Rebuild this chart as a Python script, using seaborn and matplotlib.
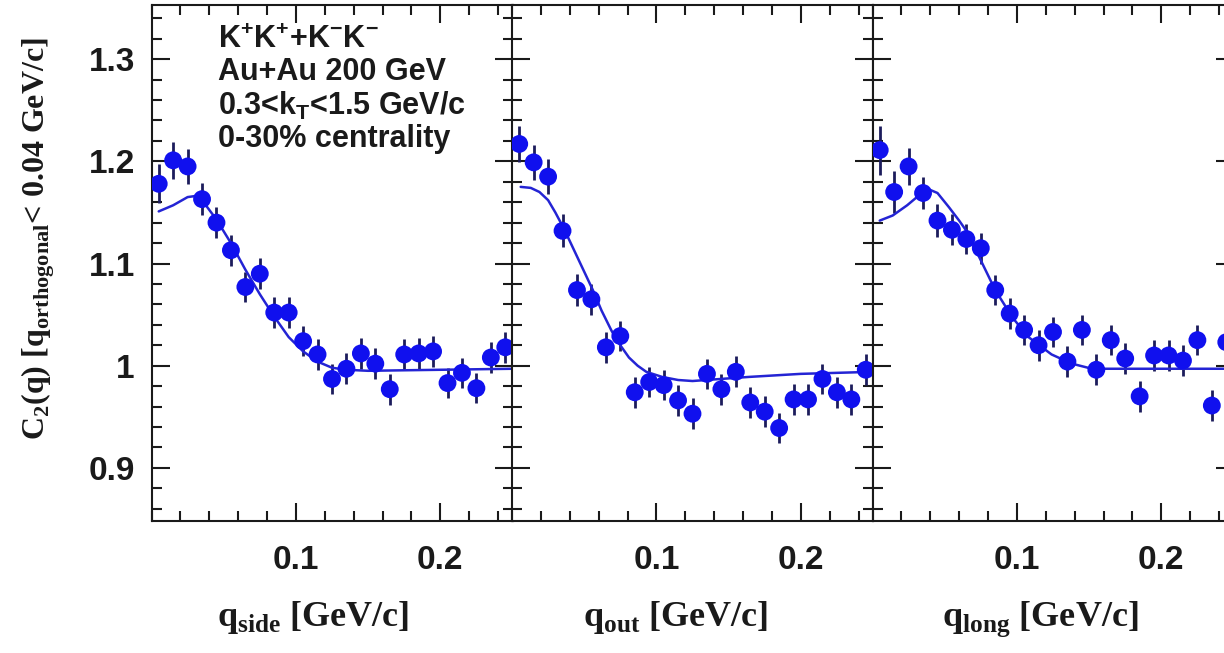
import matplotlib
matplotlib.use('Agg')
import matplotlib.pyplot as plt
import seaborn as sns
from matplotlib.ticker import MultipleLocator

# bin centres (GeV/c), same for the three projections
q = [0.005, 0.015, 0.025, 0.035, 0.045, 0.055, 0.065, 0.075, 0.085, 0.095,
     0.105, 0.115, 0.125, 0.135, 0.145, 0.155, 0.165, 0.175, 0.185, 0.195,
     0.205, 0.215, 0.225, 0.235, 0.245]

c2_side = [1.178, 1.201, 1.195, 1.163, 1.140, 1.113, 1.077, 1.090, 1.052, 1.052,
           1.024, 1.011, 0.987, 0.997, 1.012, 1.002, 0.977, 1.011, 1.012, 1.014,
           0.983, 0.993, 0.978, 1.008, 1.018]
err_side = [0.019, 0.018, 0.017, 0.016, 0.015, 0.015, 0.015, 0.015, 0.015, 0.015,
            0.015, 0.015, 0.015, 0.015, 0.015, 0.015, 0.015, 0.015, 0.015, 0.015,
            0.015, 0.015, 0.015, 0.015, 0.015]

c2_out = [1.217, 1.199, 1.185, 1.132, 1.074, 1.065, 1.018, 1.029, 0.974, 0.984,
          0.981, 0.966, 0.953, 0.992, 0.977, 0.994, 0.964, 0.955, 0.939, 0.967,
          0.967, 0.987, 0.974, 0.967, 0.996]
err_out = [0.018, 0.017, 0.017, 0.016, 0.016, 0.015, 0.015, 0.015, 0.015, 0.015,
           0.015, 0.015, 0.015, 0.015, 0.015, 0.015, 0.015, 0.015, 0.015, 0.015,
           0.015, 0.015, 0.015, 0.015, 0.015]

c2_long = [1.211, 1.170, 1.195, 1.169, 1.142, 1.133, 1.124, 1.115, 1.074, 1.051,
           1.035, 1.020, 1.033, 1.004, 1.035, 0.996, 1.025, 1.007, 0.970, 1.010,
           1.010, 1.005, 1.025, 0.961, 1.023]
err_long = [0.024, 0.021, 0.018, 0.016, 0.016, 0.015, 0.015, 0.015, 0.015, 0.015,
            0.015, 0.015, 0.015, 0.015, 0.015, 0.015, 0.015, 0.015, 0.015, 0.015,
            0.015, 0.015, 0.015, 0.015, 0.015]

# fit curves
fit_side_q = [0.005, 0.015, 0.025, 0.030, 0.035, 0.045, 0.055, 0.065, 0.075, 0.085,
              0.095, 0.105, 0.115, 0.125, 0.135, 0.150, 0.200, 0.250]
fit_side = [1.151, 1.157, 1.165, 1.166, 1.162, 1.143, 1.120, 1.094, 1.070, 1.048,
            1.028, 1.014, 1.004, 0.998, 0.996, 0.995, 0.996, 0.997]

fit_out_q = [0.006, 0.013, 0.019, 0.025, 0.030, 0.036, 0.042, 0.049, 0.056, 0.062,
             0.069, 0.075, 0.081, 0.087, 0.093, 0.104, 0.115, 0.125, 0.164, 0.200, 0.250]
fit_out = [1.175, 1.174, 1.170, 1.162, 1.150, 1.134, 1.116, 1.095, 1.074, 1.054,
           1.034, 1.020, 1.008, 1.000, 0.994, 0.989, 0.986, 0.985, 0.989, 0.992, 0.994]

fit_long_q = [0.005, 0.014, 0.024, 0.035, 0.040, 0.045, 0.053, 0.060, 0.065, 0.074,
              0.085, 0.097, 0.108, 0.124, 0.138, 0.152, 0.200, 0.250]
fit_long = [1.142, 1.147, 1.157, 1.170, 1.172, 1.169, 1.155, 1.142, 1.132, 1.106,
            1.074, 1.047, 1.028, 1.011, 1.002, 0.997, 0.997, 0.997]

x_labels = ['q$_\\mathbf{side}$ [GeV/c]', 'q$_\\mathbf{out}$ [GeV/c]', 'q$_\\mathbf{long}$ [GeV/c]']
x_label_pos = [0.447, 0.453, 0.464]
x_ticks = [0.1, 0.2]
x_ticklabels = ['0.1', '0.2']
y_ticks = [0.9, 1.0, 1.1, 1.2, 1.3]
y_ticklabels = ['0.9', '1', '1.1', '1.2', '1.3']

legend_lines = ['K$^\\mathsf{+}$K$^\\mathsf{+}$+K$^\\mathsf{-}$K$^\\mathsf{-}$',
                'Au+Au 200 GeV',
                '0.3<k$_\\mathsf{T}$<1.5 GeV/c',
                '0-30% centrality']

sns.set_style('ticks')
plt.rcParams['font.family'] = ['Liberation Sans', 'DejaVu Sans']
plt.rcParams['font.weight'] = 'bold'
plt.rcParams['mathtext.fontset'] = 'custom'
plt.rcParams['mathtext.rm'] = 'Liberation Serif:bold'
plt.rcParams['mathtext.bf'] = 'Liberation Serif:bold'
plt.rcParams['mathtext.sf'] = 'Liberation Sans:bold'

marker_color = '#1010ee'
bar_color = '#1c1c5c'
fit_color = '#2424d4'
ink = '#1a1a1a'

fig = plt.figure(figsize=(12.24, 6.53), dpi=100)
panels = [
    (c2_side, err_side, fit_side_q, fit_side),
    (c2_out, err_out, fit_out_q, fit_out),
    (c2_long, err_long, fit_long_q, fit_long),
]
lefts = [151.5, 512.0, 872.5]

for i, (vals, errs, fq, fv) in enumerate(panels):
    ax = fig.add_axes([lefts[i] / 1224, 132 / 653, 361 / 1224, 516 / 653])
    ax.errorbar(q, vals, yerr=errs, fmt='none', ecolor=bar_color, elinewidth=2.0, capsize=0, zorder=2)
    sns.lineplot(x=fq, y=fv, ax=ax, color=fit_color, linewidth=1.8, zorder=3)
    sns.scatterplot(x=q, y=vals, ax=ax, color=marker_color, s=165, edgecolor='none', zorder=4)

    ax.set_xlim(0, 0.25)
    ax.set_ylim(0.848, 1.353)
    ax.set_xticks(x_ticks)
    ax.set_xticklabels(x_ticklabels)
    ax.xaxis.set_minor_locator(MultipleLocator(0.02))
    ax.set_yticks(y_ticks)
    ax.yaxis.set_minor_locator(MultipleLocator(0.02))
    if i == 0:
        ax.set_yticklabels(y_ticklabels)
    else:
        ax.set_yticklabels([])
    ax.tick_params(which='both', direction='in', top=True, right=True, width=1.5, color=ink,
                   labelsize=24, labelcolor=ink)
    ax.tick_params(which='major', length=13)
    ax.tick_params(which='minor', length=7.5)
    ax.tick_params(axis='x', which='major', pad=17)
    ax.tick_params(axis='y', which='major', pad=12)
    for lab in ax.get_xticklabels() + ax.get_yticklabels():
        lab.set_fontweight('bold')
    for sp in ax.spines.values():
        sp.set_linewidth(1.5)
        sp.set_color(ink)

    ax.set_xlabel(x_labels[i], family='Liberation Serif', fontsize=26, fontweight='bold', color=ink)
    ax.xaxis.set_label_coords(x_label_pos[i], -0.152)
    if i == 0:
        ax.set_ylabel('C$_\\mathbf{2}$(q) [q$_\\mathbf{orthogonal}$< 0.04 GeV/c]',
                      family='Liberation Serif', fontsize=23, fontweight='bold', color=ink)
        ax.yaxis.set_label_coords(-0.262, 0.548)
        ax.text(0.184, 0.962, '\n'.join(legend_lines), transform=ax.transAxes, ha='left', va='top',
                fontsize=22, fontweight='bold', color=ink, linespacing=1.1)
    else:
        ax.set_ylabel('')

fig.savefig('out.png', dpi=100)
